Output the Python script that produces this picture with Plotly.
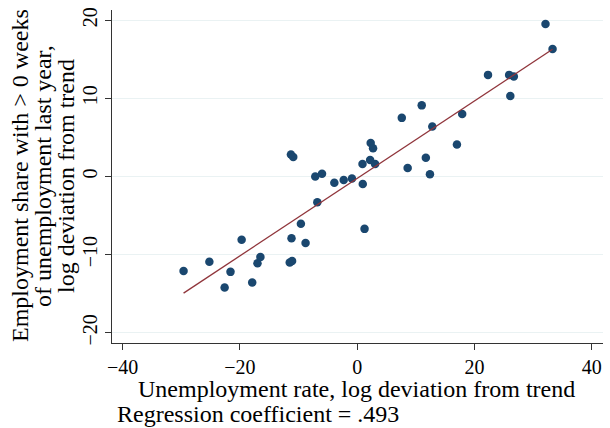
import numpy as np
import plotly.graph_objects as go

unemp_dev = [-29.6, -25.2, -22.6, -21.6, -19.7, -17.9, -17.0, -16.5, -11.5, -11.1,
             -11.2, -9.6, -8.8, -6.8, -11.3, -10.9, -7.15, -6.0, -3.9, -2.3,
             -0.9, 0.95, 0.9, 2.2, 3.05, 2.3, 2.7, 1.25, 7.6, 8.6,
             11.0, 11.7, 12.4, 12.8, 17.0, 17.9, 22.3, 25.9, 26.7, 26.1,
             32.1, 33.3]
emp_share_dev = [-12.1, -10.9, -14.2, -12.2, -8.1, -13.55, -11.1, -10.3, -11.0, -10.8,
                 -7.9, -6.05, -8.5, -3.3, 2.8, 2.5, 0.0, 0.35, -0.8, -0.45,
                 -0.25, -0.95, 1.6, 2.1, 1.6, 4.3, 3.6, -6.7, 7.5, 1.1,
                 9.1, 2.4, 0.3, 6.4, 4.1, 8.0, 13.0, 13.0, 12.8, 10.3,
                 19.5, 16.3]
x_ticks = [-40, -20, 0, 20, 40]
y_ticks = [-20, -10, 0, 10, 20]
x_title = "Unemployment rate, log deviation from trend"
y_title_lines = ["Employment share with > 0 weeks",
                 "of unemployment last year,",
                 "log deviation from trend"]
note_text = "Regression coefficient = .493"

x = np.array(unemp_dev)
y = np.array(emp_share_dev)
b, a = np.polyfit(x, y, 1)
xl = np.array([x.min(), x.max()])
yl = a + b * xl

FONT = "Liberation Serif"
L, R, T, B = 112, 7, 8, 85
W, H = 610, 428
PW, PH = W - L - R, H - T - B


def px_x(p):
    return (p - L) / PW


def px_y(p):
    return (H - B - p) / PH


fig = go.Figure()
fig.add_trace(go.Scatter(x=x, y=y, mode="markers",
                         marker=dict(color="#1a476f", size=8.5, line=dict(width=0)),
                         showlegend=False))
fig.add_trace(go.Scatter(x=xl, y=yl, mode="lines",
                         line=dict(color="#90353b", width=1.3),
                         showlegend=False))

annotations = []
for xc, line in zip([20, 43, 66], y_title_lines):
    annotations.append(dict(text=line, textangle=-90, xref="paper", yref="paper",
                            x=px_x(xc), y=px_y(175), xanchor="center", yanchor="middle",
                            showarrow=False, font=dict(size=24)))
annotations.append(dict(text=x_title, xref="paper", yref="paper",
                        x=px_x(356), y=px_y(389), xanchor="center", yanchor="middle",
                        showarrow=False, font=dict(size=24)))
annotations.append(dict(text=note_text, xref="paper", yref="paper",
                        x=px_x(115), y=px_y(414), xanchor="left", yanchor="middle",
                        showarrow=False, font=dict(size=24)))

fig.update_layout(
    width=W, height=H,
    margin=dict(l=L, r=R, t=T, b=B),
    paper_bgcolor="white", plot_bgcolor="white",
    font=dict(family=FONT, size=20, color="black"),
    xaxis=dict(range=[-41.8, 41.9], tickvals=x_ticks, showgrid=False, zeroline=False,
               showline=True, linecolor="#333333", linewidth=1.2,
               ticks="outside", ticklen=6, tickcolor="#333333",
               tickfont=dict(size=20)),
    yaxis=dict(range=[-21.3, 21.3], tickvals=y_ticks, showgrid=True, gridcolor="#eaf2f3",
               gridwidth=1.2, zeroline=False,
               showline=True, linecolor="#333333", linewidth=1.2,
               ticks="outside", ticklen=6, tickcolor="#333333",
               tickangle=-90, tickfont=dict(size=20)),
    annotations=annotations,
)
fig.write_html("out.html")
